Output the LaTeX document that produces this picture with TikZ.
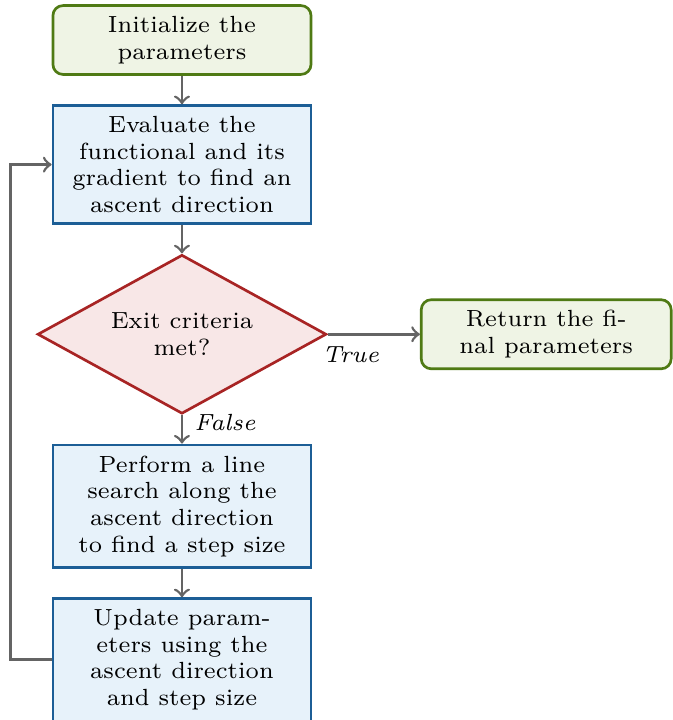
\documentclass[tikz,border=0pt]{standalone}
\usetikzlibrary{positioning,shapes.geometric}
\definecolor{termline}{HTML}{4F7A14}
\definecolor{termfill}{HTML}{EFF4E5}
\definecolor{procline}{HTML}{1C5E96}
\definecolor{procfill}{HTML}{E7F2FA}
\definecolor{testline}{HTML}{A82424}
\definecolor{testfill}{HTML}{F8E7E7}
\definecolor{arrowgray}{HTML}{646464}
\begin{document}
\begin{tikzpicture}[auto, node distance=0.3cm, font=\scriptsize,
		proc/.style={draw=procline, fill=procfill, thick, align=center, minimum width=2.716cm, inner ysep=3.2pt},
		term/.style={proc, draw=termline, fill=termfill, rounded corners=3pt},
		test/.style={diamond, draw=testline, fill=testfill, thick, align=center, aspect=1.82, inner sep=0pt, minimum width=3.04cm, minimum height=1.673cm},
		line/.style={draw=arrowgray, thick, ->}]
		\useasboundingbox (-1.915,-7.156) rectangle (5.157,0.421);
		\node[term](init){Initialize the\\parameters};
		\node[proc](eval)[below=of init]{Evaluate the\\functional and its\\gradient to find an\\ascent direction};
		\node[test](exit)[below=of eval]{Exit criteria\\met?};
		\node[term, minimum width=2.63cm](ret)[right=0.97cm of exit]{Return the fi-\\nal parameters};
		\node[proc](search)[below=of exit]{Perform a line\\search along the\\ascent direction\\to find a step size};
		\node[proc](upd)[below=of search]{Update param-\\eters using the\\ascent direction\\and step size};
		\draw[line](init) to (eval);
		\draw[line](eval) to (exit);
		\draw[line](exit) to node[swap, near start]{\textit{True}}(ret);
		\draw[line](exit) to node[near start]{\textit{False}}(search);
		\draw[line](search) to (upd);
		\draw[line](upd.west) -- ++(-0.43,0) |- (eval.west);
	\end{tikzpicture}
\end{document}
